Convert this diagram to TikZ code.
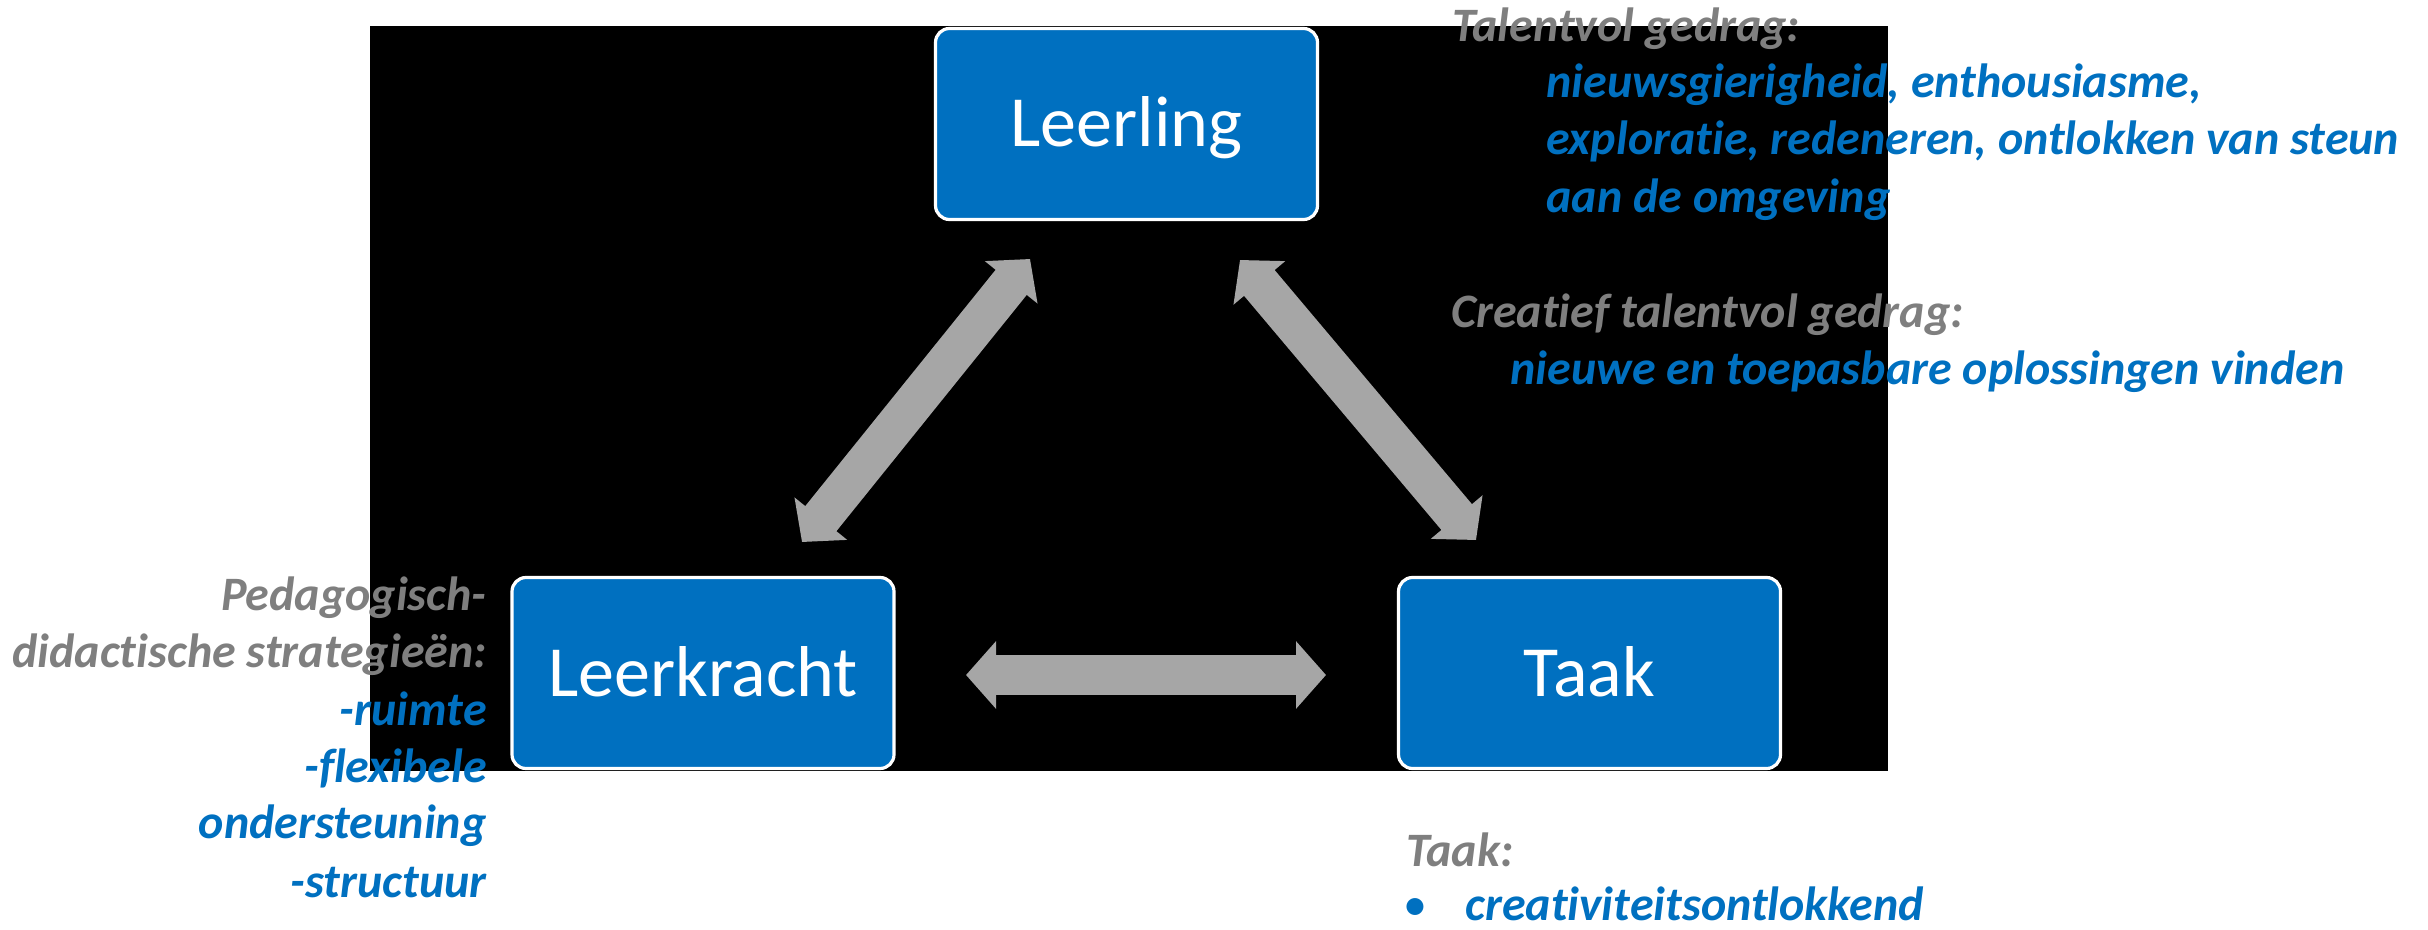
\documentclass[tikz,border=0pt]{standalone}
\usepackage{fontspec}
\setmainfont{Carlito}[RawFeature=-liga]
\usetikzlibrary{arrows.meta}
\definecolor{boxblue}{HTML}{0070C0}
\definecolor{txtgray}{HTML}{7F7F7F}
\definecolor{arrgray}{HTML}{A6A6A6}
\begin{document}
\begin{tikzpicture}[x=0.5pt,y=-0.5pt,
  box/.style={rectangle, rounded corners=7pt, fill=boxblue, draw=white, line width=1.6pt,
    minimum width=191pt, minimum height=95.5pt, text=white,
    font=\fontsize{36}{43}\selectfont, text height=23pt, text depth=0pt, inner sep=0pt},
  ann/.style={inner sep=0pt, anchor=base west, font=\fontsize{24}{28.5}\selectfont\bfseries\itshape},
  annr/.style={ann, anchor=base east},
  gtxt/.style={text=txtgray},
  btxt/.style={text=boxblue},
  dblarrow/.style={draw=arrgray, line width=20pt,
    {Triangle[width=33pt,length=15pt]}-{Triangle[width=33pt,length=15pt]}}
]
\useasboundingbox (0,0) rectangle (2428,930);
\fill[black] (370,26) rectangle (1888,771);

% boxes
\node[box] (leerling) at (1126.5,124) {Leerling};
\node[box] (leerkracht) at (703,673) {Leerkracht};
\node[box] (taak) at (1589.5,673) {Taak};

% arrow end points
\coordinate (l1) at (1030,259);
\coordinate (l2) at (802,542);
\coordinate (r1) at (1240,260);
\coordinate (r2) at (1476,540);
\coordinate (h1) at (966,675);
\coordinate (h2) at (1326,675);
\draw[dblarrow] (l1) -- (l2);
\draw[dblarrow] (r1) -- (r2);
\draw[dblarrow] (h1) -- (h2);

% top right annotation
\node[ann,gtxt] (t1) at (1452,42) {Talentvol gedrag:};
\node[ann,btxt] (t2) at (1546,98) {nieuwsgierigheid, enthousiasme,};
\node[ann,btxt] (t3) at (1546,155) {exploratie, redeneren, ontlokken van steun};
\node[ann,btxt] (t4) at (1546,213) {aan de omgeving};
\node[ann,gtxt] (c1) at (1451,328) {Creatief talentvol gedrag:};
\node[ann,btxt] (c2) at (1510,385) {nieuwe en toepasbare oplossingen vinden};

% left annotation
\node[annr,gtxt] (p1) at (487,610) {Pedagogisch-};
\node[annr,gtxt] (p2) at (487,667) {didactische strategieën:};
\node[annr,btxt] (p3) at (487,725) {-ruimte};
\node[annr,btxt] (p4) at (487,782) {-flexibele};
\node[annr,btxt] (p5) at (487,838) {ondersteuning};
\node[annr,btxt] (p6) at (487,897) {-structuur};

% bottom annotation
\node[ann,gtxt] (k1) at (1406,866) {Taak:};
\node[ann,btxt,font=\fontsize{24}{28.5}\selectfont] (k2) at (1403,920) {•};
\node[ann,btxt] (k3) at (1465,920) {creativiteitsontlokkend};
\end{tikzpicture}
\end{document}
